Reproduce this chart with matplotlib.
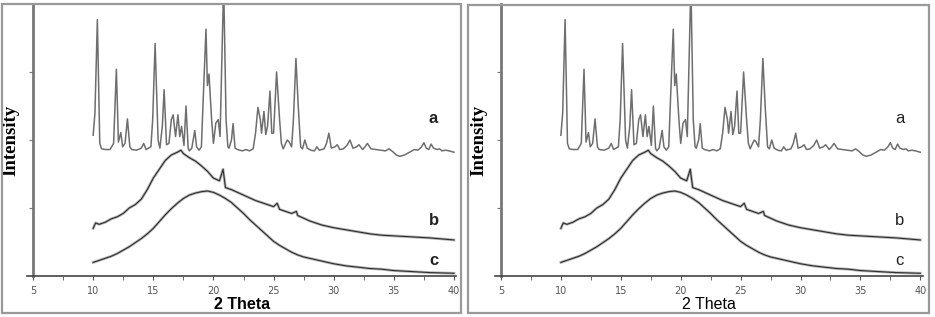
import matplotlib.pyplot as plt
from matplotlib.patches import Rectangle
from matplotlib.ticker import MultipleLocator

# curve a (crystalline drug)
a_theta = [10.0, 10.15, 10.35, 10.55, 10.7, 11.0, 11.4, 11.7, 11.93, 12.1, 12.3, 12.45, 12.65, 12.85,
           13.05, 13.2, 13.6, 14.0, 14.2, 14.4, 14.8, 14.95, 15.15, 15.4, 15.55, 15.75, 15.9, 16.1,
           16.3, 16.5, 16.65, 16.85, 17.05, 17.2, 17.35, 17.55, 17.72, 17.9, 18.0, 18.2, 18.45,
           18.6, 18.8, 19.0, 19.15, 19.38, 19.5, 19.63, 19.85, 20.0, 20.2, 20.4, 20.55, 20.65, 20.85,
           21.05, 21.2, 21.3, 21.5, 21.63, 21.8, 22.0, 22.4, 22.7, 23.0, 23.3, 23.5, 23.7, 23.9,
           24.0, 24.2, 24.35, 24.5, 24.7, 24.85, 25.0, 25.25, 25.5, 25.65, 25.8, 26.0, 26.14, 26.3,
           26.5, 26.65, 26.86, 27.05, 27.25, 27.4, 27.6, 27.8, 28.1, 28.4, 28.6, 28.8, 29.2, 29.4,
           29.6, 29.8, 30.1, 30.3, 30.5, 30.8, 31.1, 31.35, 31.6, 31.9, 32.1, 32.4, 32.6, 32.8,
           33.1, 33.5, 33.9, 34.3, 34.6, 34.9, 35.2, 35.5, 35.9, 36.3, 36.7, 37.0, 37.3, 37.5,
           37.7, 37.9, 38.1, 38.3, 38.6, 38.8, 39.0, 39.3, 39.6, 39.8, 40.0]
a_int = [2.07, 2.4, 3.77, 1.95, 1.87, 1.86, 1.86, 1.95, 3.04, 1.97, 2.11, 1.9, 1.95, 2.31,
         1.9, 1.86, 1.85, 1.88, 1.95, 1.86, 1.9, 2.3, 3.42, 2.0, 1.88, 2.2, 2.74, 1.93,
         1.95, 2.3, 2.37, 2.05, 2.37, 2.05, 2.2, 1.92, 2.5, 1.88, 1.84, 1.88, 2.14,
         1.9, 1.85, 1.9, 2.6, 3.63, 2.8, 2.97, 2.3, 1.95, 2.25, 2.3, 2.05, 2.8, 4.3,
         2.3, 1.9, 1.88, 2.0, 2.24, 1.88, 1.86, 1.84, 1.86, 1.84, 1.87, 2.1, 2.48, 2.3,
         2.1, 2.42, 2.08, 2.2, 2.72, 2.1, 2.1, 3.0, 2.3, 1.95, 1.87, 1.95, 2.0, 1.97,
         1.9, 2.3, 3.2, 2.5, 1.9, 1.87, 2.0, 1.88, 1.85, 1.84, 1.9, 1.85, 1.87, 1.95,
         2.1, 1.88, 1.9, 1.93, 1.86, 1.87, 1.92, 2.0, 1.88, 1.9, 1.93, 1.86, 1.9, 1.95,
         1.87, 1.86, 1.85, 1.84, 1.87, 1.83, 1.78, 1.76, 1.78, 1.82, 1.86, 1.85, 1.9, 1.96,
         1.88, 1.86, 1.94, 1.88, 1.86, 1.87, 1.84, 1.85, 1.84, 1.83, 1.82]

# curve b
b_theta = [10.0, 10.2, 10.5, 11.0, 11.5, 12.0, 12.5, 13.0, 13.5, 14.0, 14.5, 15.0, 15.5, 16.0,
           16.5, 17.0, 17.3, 17.5, 18.0, 18.5, 19.0, 19.5, 20.0, 20.5, 20.8, 21.0, 21.5, 22.0,
           22.5, 23.0, 23.5, 24.0, 24.5, 25.0, 25.3, 25.5, 26.0, 26.5, 26.9, 27.0, 27.5, 28.0,
           28.5, 29.0, 29.5, 30.0, 31.0, 32.0, 33.0, 34.0, 35.0, 36.0, 37.0, 38.0, 39.0, 40.0]
b_int = [0.70, 0.78, 0.76, 0.79, 0.84, 0.87, 0.92, 1.0, 1.05, 1.13, 1.27, 1.44, 1.57, 1.70,
         1.78, 1.82, 1.85, 1.80, 1.74, 1.69, 1.62, 1.54, 1.44, 1.40, 1.57, 1.30, 1.27, 1.23,
         1.19, 1.15, 1.11, 1.08, 1.05, 1.02, 1.07, 0.98, 0.95, 0.92, 0.95, 0.89, 0.85, 0.81,
         0.78, 0.75, 0.73, 0.71, 0.68, 0.65, 0.62, 0.60, 0.59, 0.58, 0.57, 0.56, 0.545, 0.53]

# curve c
c_theta = [10.0, 10.5, 11.0, 11.5, 12.0, 12.5, 13.0, 13.5, 14.0, 14.5, 15.0, 15.5, 16.0, 16.5,
           17.0, 17.5, 18.0, 18.5, 19.0, 19.5, 20.0, 20.5, 21.0, 21.5, 22.0, 22.5, 23.0, 23.5,
           24.0, 24.5, 25.0, 25.5, 26.0, 26.5, 27.0, 27.5, 28.0, 28.5, 29.0, 30.0, 31.0, 32.0,
           33.0, 34.0, 35.0, 36.0, 37.0, 38.0, 39.0, 40.0]
c_int = [0.20, 0.23, 0.26, 0.29, 0.33, 0.38, 0.43, 0.49, 0.55, 0.62, 0.70, 0.80, 0.90, 0.99,
         1.07, 1.14, 1.19, 1.22, 1.24, 1.25, 1.23, 1.19, 1.14, 1.08, 1.00, 0.92, 0.83, 0.75,
         0.67, 0.59, 0.51, 0.45, 0.40, 0.35, 0.31, 0.28, 0.26, 0.24, 0.22, 0.18, 0.15, 0.13,
         0.11, 0.10, 0.08, 0.07, 0.06, 0.05, 0.045, 0.04]

curve_labels = ['a', 'b', 'c']
label_pos = [(38.3, 2.32), (38.3, 0.82), (38.3, 0.23)]
x_ticks = [5, 10, 15, 20, 25, 30, 35, 40]


def draw_panel(ax, bold):
    ax.plot(a_theta, a_int, color='#6e6e6e', lw=1.1)
    for xs, ys in [(b_theta, b_int), (c_theta, c_int)]:
        ax.plot(xs, ys, color='#b4b4b4', lw=2.0)
        ax.plot(xs, ys, color='#2e2e2e', lw=0.8)

    ax.set_xlim(4.5, 40.2)
    ax.set_ylim(0, 4.0)
    ax.set_xticks(x_ticks)
    ax.set_xticklabels([str(t) for t in x_ticks], fontsize=7, color='#555555')
    ax.xaxis.set_minor_locator(MultipleLocator(2.5))
    ax.set_yticks([1, 2, 3])
    ax.set_yticklabels([])
    ax.tick_params(axis='x', which='both', direction='out', length=3, color='#555555', pad=4)
    ax.tick_params(axis='y', direction='out', length=3, color='#777777')

    for s in ['top', 'right']:
        ax.spines[s].set_visible(False)
    ax.spines['left'].set_position(('data', 5))
    ax.spines['left'].set_color('#777777')
    ax.spines['left'].set_linewidth(2)
    ax.spines['bottom'].set_color('#444444')
    ax.spines['bottom'].set_linewidth(1.2)

    w = 'bold' if bold else 'normal'
    for lab, (x, y) in zip(curve_labels, label_pos):
        ax.text(x, y, lab, fontsize=12, fontweight=w, color='#222222',
                ha='center', va='center', family='Liberation Sans')
    ax.set_xlabel('2 Theta', fontsize=11.5, fontweight=w, family='Liberation Sans', labelpad=1)
    ax.set_ylabel('Intensity', fontsize=13.5, fontweight='bold', family='Liberation Serif', labelpad=3)


fig = plt.figure(figsize=(9.35, 3.17), dpi=100)

ax1 = fig.add_axes([27 / 935, 41 / 317, 429.4 / 935, 272 / 317])
draw_panel(ax1, True)
ax2 = fig.add_axes([495 / 935, 41 / 317, 427.7 / 935, 272 / 317])
draw_panel(ax2, False)

# outer frames round each panel
fig.patches.append(Rectangle((2 / 935, 4 / 317), 459 / 935, 309 / 317, transform=fig.transFigure,
                             fill=False, edgecolor='#999999', lw=1.6))
fig.patches.append(Rectangle((468 / 935, 4 / 317), 461 / 935, 308 / 317, transform=fig.transFigure,
                             fill=False, edgecolor='#999999', lw=1.6))

fig.savefig('out.png', dpi=100)
